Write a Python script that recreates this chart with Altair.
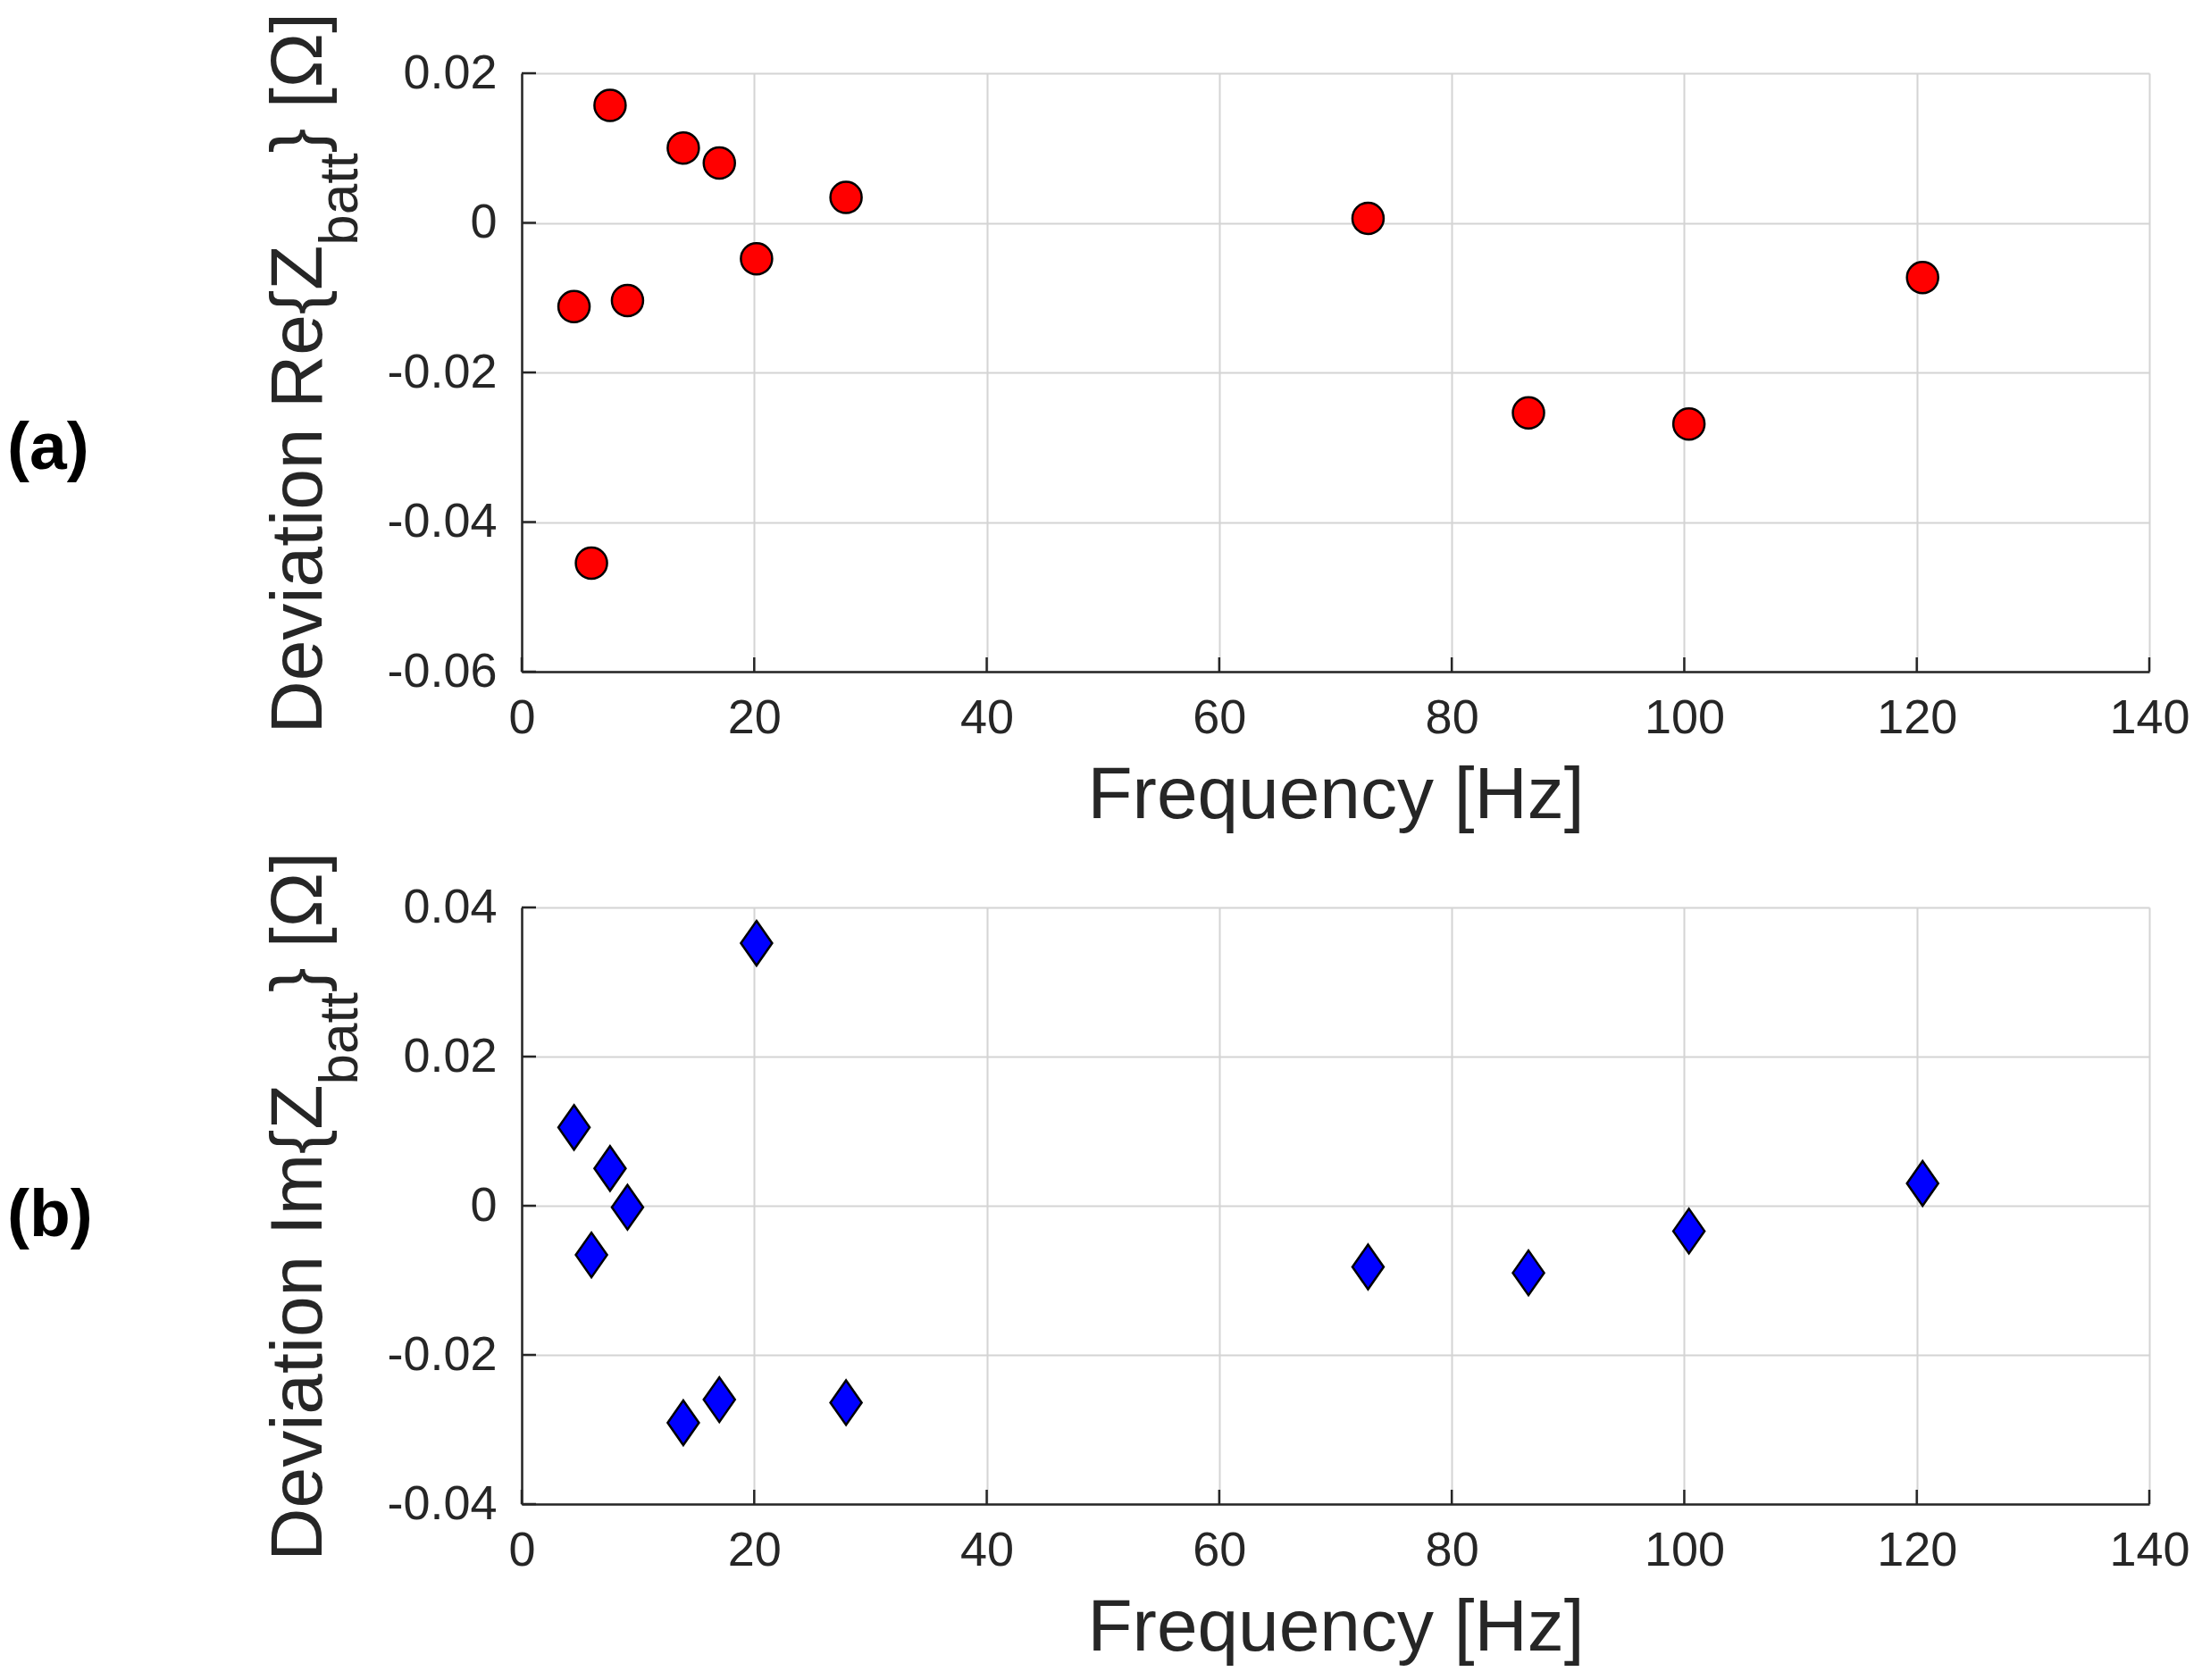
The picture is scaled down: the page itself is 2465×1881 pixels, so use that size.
import altair as alt
import pandas as pd

# ---- data ----
freq = [4.5, 6.0, 7.6, 9.1, 13.9, 17.0, 20.2, 27.9, 72.8, 86.6, 100.4, 120.5]
re_dev = [-0.0112, -0.0455, 0.0157, -0.0104, 0.0100, 0.0080, -0.0048, 0.0034,
          0.0006, -0.0254, -0.0269, -0.0073]
im_dev = [0.0105, -0.0066, 0.0050, -0.0002, -0.0291, -0.0260, 0.0352, -0.0264,
          -0.0082, -0.0090, -0.0034, 0.0030]

x_ticks = [0, 20, 40, 60, 80, 100, 120, 140]
re_ticks = [-0.06, -0.04, -0.02, 0, 0.02]
im_ticks = [-0.04, -0.02, 0, 0.02, 0.04]

FONT = "Liberation Sans"
DARK = "#262626"
W = 1822

label_expr = "datum.value == 0 ? '0' : (datum.value < 0 ? '-' : '') + format(abs(datum.value), '.2f')"


def panel(values, yticks, ydomain, height, color, shape, size, main_title,
          panel_label, label_y):
    df = pd.DataFrame({"freq": freq, "dev": values})
    x_enc = alt.X(
        "freq:Q",
        scale=alt.Scale(domain=[0, 140], nice=False, zero=False),
        axis=alt.Axis(
            values=x_ticks, title="Frequency [Hz]", grid=True, ticks=False,
            tickSize=0, labelPadding=25, titlePadding=19, labelFlush=False,
            labelOverlap=False,
        ),
    )
    y_enc = alt.Y(
        "dev:Q",
        scale=alt.Scale(domain=ydomain, nice=False, zero=False),
        axis=alt.Axis(
            values=yticks, title=None, grid=True, ticks=False, tickSize=0,
            labelPadding=28, labelExpr=label_expr, labelFlush=False,
            labelOverlap=False,
        ),
    )
    pts = alt.Chart(df).mark_point(
        shape=shape, filled=True, fill=color, stroke="black", strokeWidth=2.5,
        size=size, opacity=1,
    ).encode(x=x_enc, y=y_enc)

    # inward ticks (MATLAB style)
    xt = alt.Chart(pd.DataFrame({"freq": x_ticks})).mark_rule(
        color=DARK, strokeWidth=2.5
    ).encode(x=x_enc, y=alt.value(height), y2=alt.value(height - 16))
    yt = alt.Chart(pd.DataFrame({"dev": yticks})).mark_rule(
        color=DARK, strokeWidth=2.5
    ).encode(y=y_enc, x=alt.value(0), x2=alt.value(16))

    # y-axis title with subscript, built from three text pieces
    f_main, f_sub = 82, 62
    w_main = main_title[1] * f_main
    w_sub = 1.668 * f_sub
    w_end = 1.936 * f_main
    total = w_main + w_sub + w_end
    y0 = height / 2 + total / 2
    pieces = [
        (main_title[0], f_main, -224, y0),
        ("batt", f_sub, -184, y0 - w_main),
        ("} [Ω]", f_main, -224, y0 - w_main - w_sub),
    ]
    texts = []
    for txt, fs, xx, yy in pieces:
        texts.append(
            alt.Chart(pd.DataFrame({"t": [txt]})).mark_text(
                angle=270, align="left", baseline="alphabetic", font=FONT,
                fontSize=fs, color=DARK,
            ).encode(text="t:N", x=alt.value(xx), y=alt.value(yy))
        )
    lab = alt.Chart(pd.DataFrame({"t": [panel_label]})).mark_text(
        align="left", baseline="middle", font=FONT, fontSize=75,
        fontWeight="bold", color="black",
    ).encode(text="t:N", x=alt.value(-576), y=alt.value(label_y))

    return alt.layer(pts, xt, yt, *texts, lab).properties(width=W, height=height)


diamond = "M0,-1L0.7,0L0,1L-0.7,0Z"

top = panel(re_dev, re_ticks, [-0.06, 0.02], 670, "#ff0000", "circle", 1225,
            ("Deviation Re{Z", 6.669), "(a)", 420)
bottom = panel(im_dev, im_ticks, [-0.04, 0.04], 668, "#0000ff", diamond, 2500,
               ("Deviation Im{Z", 6.502), "(b)", 345)

chart = alt.vconcat(top, bottom, spacing=23).properties(
    padding={"left": 0, "top": 6, "right": 5, "bottom": 5}
).configure_view(stroke=None).configure_axis(
    labelFont=FONT, labelFontSize=54, labelColor=DARK,
    titleFont=FONT, titleFontSize=82, titleFontWeight="normal", titleColor=DARK,
    gridColor="#d4d4d4", gridWidth=2, gridOpacity=1,
    domainColor=DARK, domainWidth=2.5,
)

chart.save("out.html", embed_options={"renderer": "svg", "actions": False})
